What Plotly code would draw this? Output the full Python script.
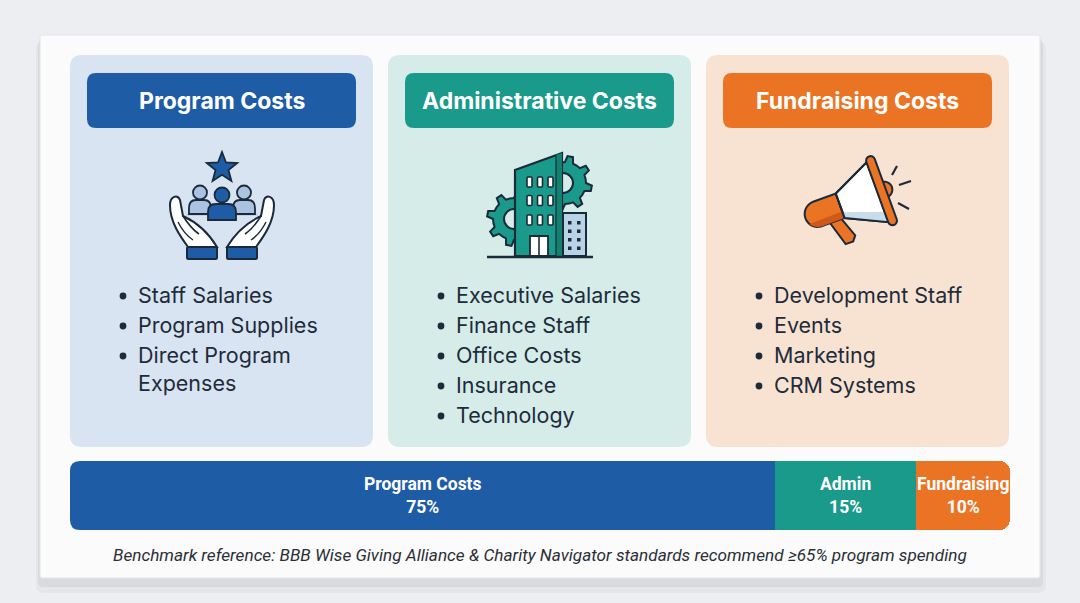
import math
import plotly.graph_objects as go

W, H = 1080, 603

# ---------------- data ----------------
categories = ["Program Costs", "Administrative Costs", "Fundraising Costs"]
program_items = ["Staff Salaries", "Program Supplies", "Direct Program\nExpenses"]
admin_items = ["Executive Salaries", "Finance Staff", "Office Costs", "Insurance", "Technology"]
fundraising_items = ["Development Staff", "Events", "Marketing", "CRM Systems"]
bar_labels = ["Program Costs", "Admin", "Fundraising"]
shares = [75, 15, 10]
footnote = ("Benchmark reference: BBB Wise Giving Alliance & Charity Navigator "
            "standards recommend \u226565% program spending")

# ---------------- styles ----------------
header_colors = ["#1f5ca6", "#1a9a8a", "#ea7424"]
panel_colors = ["#d8e4f2", "#d5ece8", "#f8e3d3"]
ink = "#1b2a3a"
text_col = "#1e2b3a"
card_col = "#fbfbfc"

shapes = []
annotations = []


def rrect(x0, y0, x1, y1, r):
    return (f"M {x0+r},{y0} L {x1-r},{y0} Q {x1},{y0} {x1},{y0+r} "
            f"L {x1},{y1-r} Q {x1},{y1} {x1-r},{y1} L {x0+r},{y1} "
            f"Q {x0},{y1} {x0},{y1-r} L {x0},{y0+r} Q {x0},{y0} {x0+r},{y0} Z")


def add_path(path, fill, line=None, lw=0, layer="above"):
    shapes.append(dict(type="path", path=path, xref="x", yref="y",
                       fillcolor=fill, layer=layer,
                       line=dict(color=line if line else "rgba(0,0,0,0)", width=lw)))


def add_stroke(path, color=None, lw=1.8):
    shapes.append(dict(type="path", path=path, xref="x", yref="y",
                       line=dict(color=color or ink, width=lw)))


def add_circle(cx, cy, r, fill, line=None, lw=0):
    shapes.append(dict(type="circle", xref="x", yref="y",
                       x0=cx - r, x1=cx + r, y0=cy - r, y1=cy + r,
                       fillcolor=fill,
                       line=dict(color=line if line else "rgba(0,0,0,0)", width=lw)))


def add_line(x0, y0, x1, y1, color=None, lw=2):
    shapes.append(dict(type="line", xref="x", yref="y", x0=x0, y0=y0, x1=x1, y1=y1,
                       line=dict(color=color or ink, width=lw)))


def poly(pts, close=True):
    s = "M " + " L ".join(f"{x:.2f},{y:.2f}" for x, y in pts)
    return s + (" Z" if close else "")


# ---------------- background and card ----------------
add_path(rrect(36, 42, 1046, 593, 8), "rgba(0,0,0,0.03)", layer="below")
add_path(rrect(38, 39, 1043, 587, 5), "rgba(0,0,0,0.05)", layer="below")
add_path(rrect(40, 35, 1040, 578, 2), card_col, line="#e3e5e9", lw=1, layer="below")

# ---------------- panels ----------------
panel_x0 = [70, 388, 706]
panel_w = 303
items_all = [program_items, admin_items, fundraising_items]

for i, x0 in enumerate(panel_x0):
    add_path(rrect(x0, 55, x0 + panel_w, 447, 12), panel_colors[i])
    add_path(rrect(x0 + 17, 73, x0 + panel_w - 17, 128, 9), header_colors[i])
    annotations.append(dict(x=x0 + panel_w / 2, y=101, xref="x", yref="y",
                            text=categories[i], showarrow=False,
                            font=dict(family="Inter", size=23, color="white", weight=700),
                            xanchor="center", yanchor="middle"))
    y = 295
    for item in items_all[i]:
        lines = item.split("\n")
        for k, ln in enumerate(lines):
            if k == 0:
                add_circle(x0 + 53, y + 1, 3.4, text_col)
            annotations.append(dict(x=x0 + 66, y=y, xref="x", yref="y", text=ln,
                                    showarrow=False, xanchor="left", yanchor="middle",
                                    font=dict(family="Inter", size=21.5, color=text_col)))
            y += 30 if k == len(lines) - 1 else 28

# ---------------- icon 1: hands, people, star ----------------
cx = 222
blue = "#1f5ca6"
add_path(f"M {cx-36},{216} C {cx-30},{198} {cx+30},{198} {cx+36},{216} Z", "rgba(31,92,166,0.13)")
for sx in (cx - 22, cx + 22):
    add_path(f"M {sx-11},{214} L {sx-11},{208} Q {sx-11},{200} {sx-4},{200} L {sx+4},{200} "
             f"Q {sx+11},{200} {sx+11},{208} L {sx+11},{214} Z", "#a9c3e0", ink, 1.8)
    add_circle(sx, 192.5, 7, "#a9c3e0", ink, 1.8)
add_path(f"M {cx-14},{220} L {cx-14},{212} Q {cx-14},{204} {cx-6},{204} L {cx+6},{204} "
         f"Q {cx+14},{204} {cx+14},{212} L {cx+14},{220} Z", blue, ink, 1.8)
add_circle(cx, 195, 7.5, blue, ink, 1.8)
star = []
for k in range(10):
    ang = -math.pi / 2 + k * math.pi / 5
    rr = 16 if k % 2 == 0 else 6.8
    star.append((cx + rr * math.cos(ang), 168 + rr * math.sin(ang)))
add_path(poly(star), blue, ink, 1.8)


def mx(x, mirror):
    return 2 * cx - x if mirror else x


for mir in (False, True):
    m = lambda x: mx(x, mir)
    hand = (f"M {m(188)},247 C {m(180)},236 {m(170)},222 {m(170)},205 "
            f"C {m(170)},196 {m(178)},194 {m(180)},200 L {m(183)},216 "
            f"C {m(196)},222 {m(208)},232 {m(217)},247 Z")
    add_path(hand, "white", ink, 2)
    add_stroke(f"M {m(183)},216 C {m(188)},224 {m(193)},230 {m(199)},234", ink, 1.6)
    add_stroke(f"M {m(178)},222 C {m(182)},230 {m(187)},236 {m(193)},240", ink, 1.4)
    add_path(rrect(min(m(187), m(217)), 247, max(m(187), m(217)), 259, 1.5), blue, ink, 2)

# ---------------- icon 2: building & gears ----------------
teal = "#1a9a8a"
bg2 = "#d5ece8"


def gear(gx, gy, ro, ri, teeth=8):
    pts = []
    step = 2 * math.pi / teeth
    for k in range(teeth):
        a0 = step * k
        for frac, rr in ((0.0, ri), (0.12, ro), (0.38, ro), (0.5, ri), (0.75, ri)):
            a = a0 + frac * step
            pts.append((gx + rr * math.cos(a), gy + rr * math.sin(a)))
    return poly(pts)


add_path(gear(565, 183, 27, 21), teal, ink, 2)
add_circle(563, 183, 10, bg2, ink, 2)
add_path(gear(514, 219, 27, 21), teal, ink, 2)
add_circle(514, 219, 10, bg2, ink, 2)
add_path(poly([(515, 256), (515, 170), (562, 153), (562, 256)]), teal, ink, 2.2)
add_path(poly([(556, 155), (562, 153), (562, 256), (556, 256)]), "#14806f")
add_line(556, 156, 556, 256, ink, 1.2)
for wx in (527, 537.5, 548):
    for wy in (177, 195.5, 215):
        add_path(rrect(wx, wy, wx + 5, wy + 10, 1), "white", ink, 1.6)
add_path(poly([(530, 256), (530, 236), (548, 236), (548, 256)]), "white", ink, 1.8)
add_line(539, 236, 539, 256, ink, 1.6)
add_path(poly([(563, 256), (563, 213), (586, 213), (586, 256)]), "#b8d3e6", ink, 2)
for wx in (568, 577):
    for wy in (221, 229.5, 238, 246.5):
        add_path(poly([(wx, wy), (wx + 3.5, wy), (wx + 3.5, wy + 3.5), (wx, wy + 3.5)]), ink)
add_line(487, 257, 593, 257, ink, 2.4)

# ---------------- icon 3: megaphone ----------------
orange = "#ea7424"
ox, oy = 812, 216
ang = math.radians(-20)
ux, uy = math.cos(ang), math.sin(ang)
vx, vy = -uy, ux


def T(u, v):
    return (ox + u * ux + v * vx, oy + u * uy + v * vy)


def arcpts(cu, cv, r, a0, a1, n=14):
    return [T(cu + r * math.cos(math.radians(a0 + (a1 - a0) * t / n)),
              cv + r * math.sin(math.radians(a0 + (a1 - a0) * t / n))) for t in range(n + 1)]


add_path(poly([T(14, 11), T(26, 11), T(34, 33), T(30, 38), T(22, 38)]), orange, ink, 2)
add_path(poly(arcpts(6, 0, 13, 90, 270) + [T(30, -13), T(30, 13)]), orange, ink, 2)
add_path(poly(arcpts(6, 0, 13, 90, 150) + [T(30, 6), T(30, 13)]), "#d0591a")
add_path(poly([T(30, -13), T(70, -32), T(70, 32), T(30, 13)]), "white", ink, 2)
add_path(poly([T(30, 7), T(70, 21), T(70, 32), T(30, 13)]), "#c9dcea")
add_path(poly([T(30, -13), T(70, -32), T(70, 32), T(30, 13)]), "rgba(0,0,0,0)", ink, 2)
add_path(poly(arcpts(77, 0, 8, -90, 90)), orange, ink, 2)
add_path(poly(arcpts(74, -32, 4.5, 180, 360, 8) + arcpts(74, 32, 4.5, 0, 180, 8)), orange, ink, 2)
add_line(892, 175, 897, 166, ink, 2.2)
add_line(899, 185, 911, 181, ink, 2.2)
add_line(898, 203, 909, 209, ink, 2.2)

# ---------------- stacked share bar ----------------
fig = go.Figure()
cum = 0
for lab, val, col in zip(bar_labels, shares, header_colors):
    fig.add_trace(go.Bar(
        x=[val], y=[0], orientation="h", xaxis="x2", yaxis="y2",
        marker=dict(color=col, line=dict(width=0)),
        width=1, hoverinfo="skip", showlegend=False))
    annotations.append(dict(x=cum + val / 2, y=0, xref="x2", yref="y2",
                            text=f"{lab}<br>{val}%", showarrow=False,
                            xanchor="center", yanchor="middle",
                            font=dict(family="Roboto", size=17.5, color="white", weight=700)))
    cum += val

bar_x0, bar_x1, bar_y0, bar_y1 = 70, 1010, 461, 530
rc = 10
add_path(f"M {bar_x0-1},{bar_y0-1} L {bar_x0+rc},{bar_y0-1} L {bar_x0+rc},{bar_y0} "
         f"Q {bar_x0},{bar_y0} {bar_x0},{bar_y0+rc} L {bar_x0-1},{bar_y0+rc} Z", card_col)
add_path(f"M {bar_x0-1},{bar_y1+1} L {bar_x0+rc},{bar_y1+1} L {bar_x0+rc},{bar_y1} "
         f"Q {bar_x0},{bar_y1} {bar_x0},{bar_y1-rc} L {bar_x0-1},{bar_y1-rc} Z", card_col)

annotations.append(dict(x=540, y=555, xref="x", yref="y", text=footnote, showarrow=False,
                        xanchor="center", yanchor="middle",
                        font=dict(family="Roboto", size=17.2, color="#2a2f36", style="italic")))

fig.update_layout(
    width=W, height=H, margin=dict(l=0, r=0, t=0, b=0),
    paper_bgcolor="#eceef1", plot_bgcolor="rgba(0,0,0,0)",
    barmode="stack", barcornerradius=10, bargap=0,
    xaxis=dict(range=[0, W], visible=False, domain=[0, 1], fixedrange=True),
    yaxis=dict(range=[H, 0], visible=False, domain=[0, 1], fixedrange=True),
    xaxis2=dict(range=[0, 100], visible=False, anchor="y2", fixedrange=True,
                domain=[bar_x0 / W, bar_x1 / W]),
    yaxis2=dict(range=[-0.5, 0.5], visible=False, anchor="x2", fixedrange=True,
                domain=[1 - bar_y1 / H, 1 - bar_y0 / H]),
    shapes=shapes, annotations=annotations,
)

fig.write_html("out.html", config={"displayModeBar": False},
               post_script="document.body.style.margin='0';")
